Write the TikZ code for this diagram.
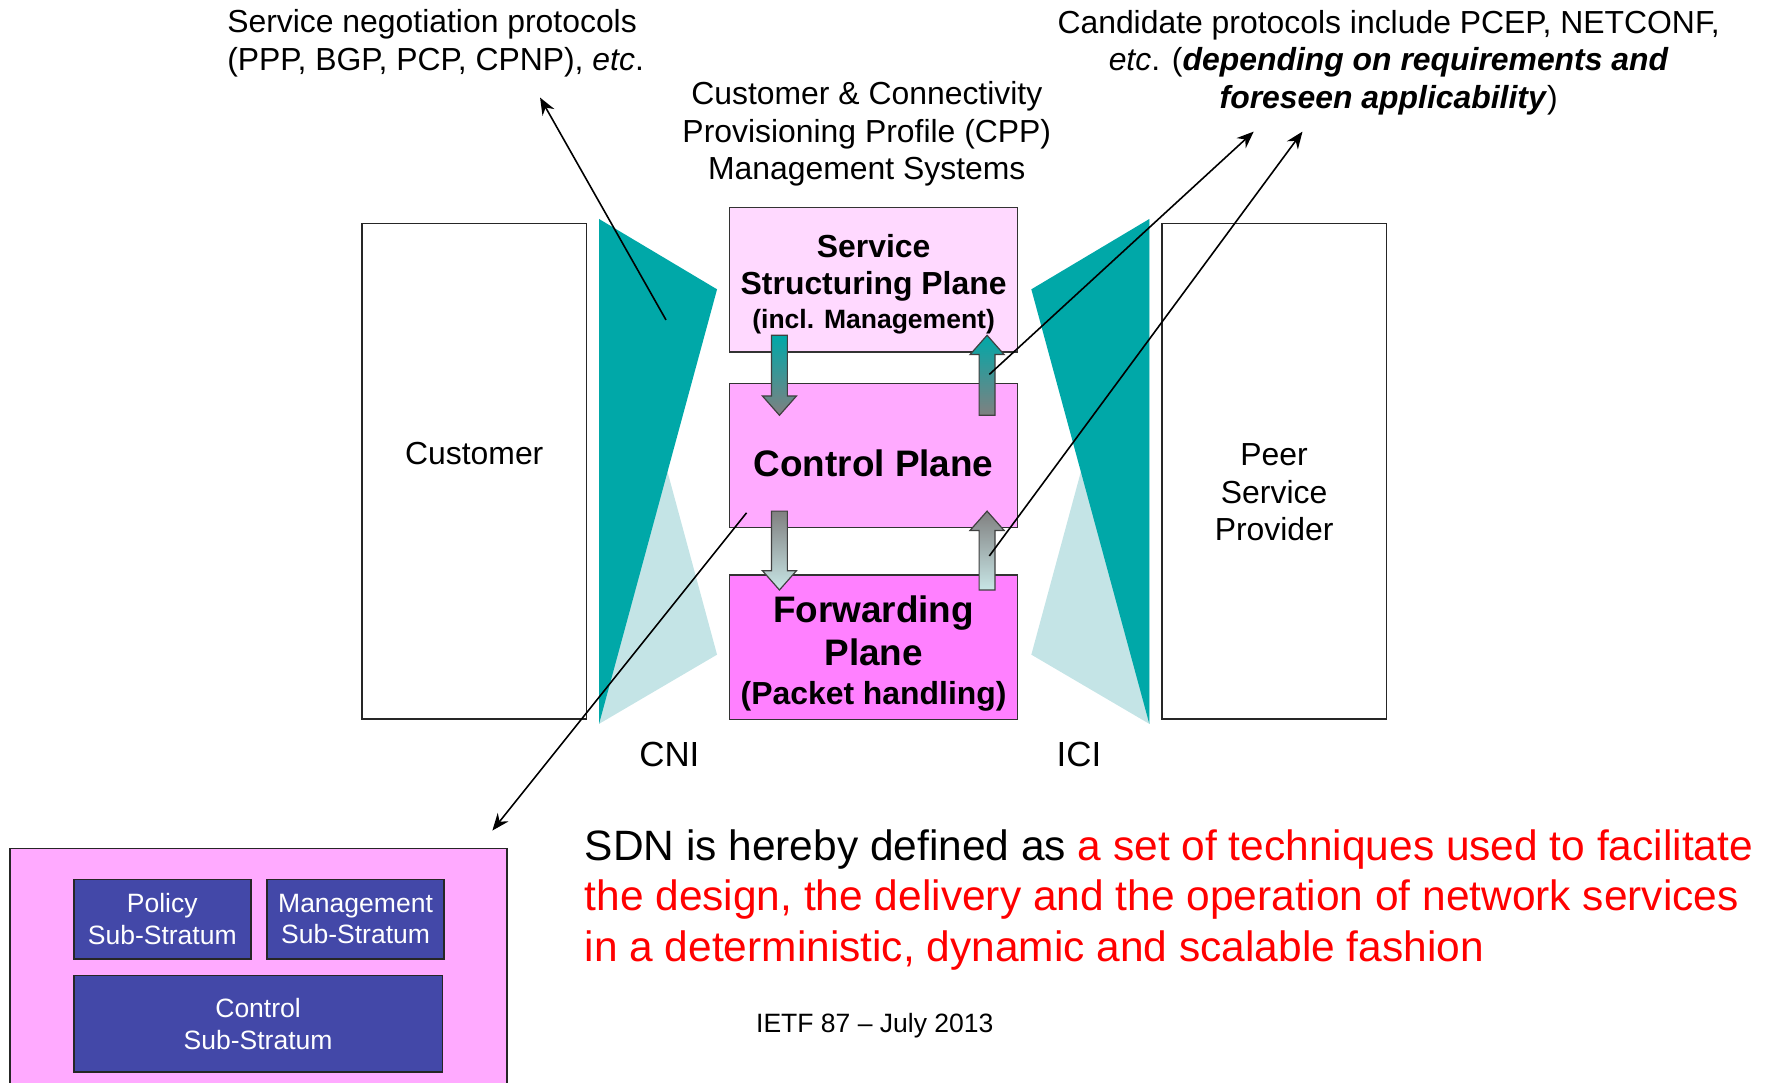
\documentclass[tikz,border=0pt]{standalone}
\usepackage{fontspec}
\setmainfont{Liberation Sans}
\usetikzlibrary{arrows.meta,positioning}
\definecolor{tealdark}{RGB}{0,168,168}
\definecolor{teallight}{RGB}{196,228,230}
\definecolor{pinkpale}{RGB}{255,217,255}
\definecolor{pinkmid}{RGB}{255,170,255}
\definecolor{pinkdeep}{RGB}{255,128,255}
\definecolor{stratum}{RGB}{67,72,168}
\definecolor{arrowgray}{RGB}{128,128,128}
\definecolor{arrowpale}{RGB}{200,230,230}
\tikzset{
  plane/.style={rectangle,draw=black!80,line width=0.8pt,minimum width=5.08cm,minimum height=2.54cm,inner sep=0pt},
  planetext/.style={inner sep=0pt,align=center},
  sidebox/.style={rectangle,draw=black!85,line width=0.8pt,minimum width=3.96cm,minimum height=8.74cm},
  subbox/.style={rectangle,draw=black!85,fill=stratum,text=white,line width=0.8pt,minimum width=3.12cm,minimum height=1.4cm,inner sep=0pt,align=center,font=\fontsize{13.3}{15.9}\selectfont},
  plain/.style={inner sep=0pt,align=center,font=\fontsize{16}{18.8}\selectfont},
  pointer/.style={-{Stealth[length=3mm,width=2.4mm]},line width=0.8pt}
}

\begin{document}
\begin{tikzpicture}[x=0.02cm,y=-0.02cm]
  \useasboundingbox (0,0) rectangle (1568,954);

  % interface funnels
  \fill[teallight] (528,193) -- (632,577) -- (528,638) -- cycle;
  \fill[tealdark] (528,193) -- (632,255) -- (528,638) -- cycle;
  \fill[teallight] (1013,193) -- (909,577) -- (1013,638) -- cycle;
  \fill[tealdark] (1013,193) -- (909,255) -- (1013,638) -- cycle;

  \node[sidebox] (customer) at (418,415.5) {};
  \node[sidebox] (peer) at (1123,415.5) {};
  \node[plain] (custtext) at (418,400) {Customer};
  \node[plain] (peertext) at (1123,434) {Peer\\Service\\Provider};

  \node[plane,fill=pinkpale] (ssp) at (770,246.5) {};
  \node[plane,fill=pinkmid] (ctl) at (770,401.5) {};
  \node[plane,fill=pinkdeep] (fwd) at (770,570.5) {};
  \node[planetext,font=\bfseries\fontsize{16}{18.5}\selectfont] (ssptext) at (770,250.5)
    {Service\\Structuring Plane\\[-1.7pt]\fontsize{13.3}{15}\selectfont (incl. Management)};
  \node[planetext,font=\bfseries\fontsize{18.5}{21}\selectfont] (ctltext) at (770,408) {Control Plane};
  \node[planetext,font=\bfseries\fontsize{18.5}{21.5}\selectfont] (fwdtext) at (770,576)
    {Forwarding\\Plane\\[-1.7pt]\fontsize{16}{19}\selectfont (Packet handling)};

  % block arrows between planes
  \foreach \cx/\yb/\yt/\ctop/\cbot in {687/295.5/366/tealdark/arrowgray,687/450.5/520/arrowgray/arrowpale,870/366/295.5/tealdark/arrowgray,870/520/450.5/arrowgray/arrowpale}{
    \pgfmathsetmacro{\yh}{\yt+17*sign(\yb-\yt)}
    \shade[top color=\ctop,bottom color=\cbot,draw=black!75,line width=0.6pt]
      (\cx-7,\yb) -- (\cx+7,\yb) -- (\cx+7,\yh) -- (\cx+15,\yh) -- (\cx,\yt)
      -- (\cx-15,\yh) -- (\cx-7,\yh) -- cycle;
  }

  \node[plain] (negtext) at (200,38) [anchor=west,align=left]
    {Service negotiation protocols\\(PPP, BGP, PCP, CPNP), \textit{etc}.};
  \node[plain] (cpptext) at (764,118)
    {Customer \& Connectivity\\Provisioning Profile (CPP)\\Management Systems};
  \node[plain] (candtext) at (1224,55)
    {Candidate protocols include PCEP, NETCONF,\\\textit{etc}. (\textbf{\textit{depending on requirements and}}\\\textbf{\textit{foreseen applicability}})};
  \node[plain,font=\fontsize{17.5}{20}\selectfont] (cni) at (590,665) {CNI};
  \node[plain,font=\fontsize{17.5}{20}\selectfont] (ici) at (951,665) {ICI};

  % SDN strata
  \node[fill=pinkmid,minimum width=8.74cm,minimum height=4.2cm,inner sep=0pt,anchor=north west] (sdnbox) at (9,748) {};
  \draw[line width=0.8pt,black!85] (sdnbox.south west) -- (sdnbox.north west) -- (sdnbox.north east) -- (sdnbox.south east);
  \node[subbox] (policy) at (143,810) {Policy\\Sub-Stratum};
  \node[subbox,right=0.26cm of policy] (mgmt) {Management\\Sub-Stratum};
  \node[subbox,minimum width=6.5cm,minimum height=1.7cm,below=0.27cm of policy.south west,anchor=north west] (ctlsub) {Control\\Sub-Stratum};

  \node[plain,anchor=west,align=left,font=\fontsize{21.3}{25.3}\selectfont] (sdndef) at (515,793)
    {SDN is hereby defined as \textcolor{red}{a set of techniques used to facilitate}\\\textcolor{red}{the design, the delivery and the operation of network services}\\\textcolor{red}{in a deterministic, dynamic and scalable fashion}};
  \node[plain,font=\fontsize{13.3}{16}\selectfont] (ietf) at (771,904) {IETF 87 -- July 2013};

  % pointers
  \coordinate (negfoot) at (587,282);
  \coordinate (negtip) at (476,86);
  \coordinate (ctlfoot) at (658,452);
  \coordinate (sdntip) at (434,732);
  \coordinate (upfootA) at (872,330);
  \coordinate (candtipA) at (1105,116);
  \coordinate (upfootB) at (872,490);
  \coordinate (candtipB) at (1148,116);
  \draw[pointer] (negfoot) -- (negtip);
  \draw[pointer] (ctlfoot) -- (sdntip);
  \draw[pointer] (upfootA) -- (candtipA);
  \draw[pointer] (upfootB) -- (candtipB);
\end{tikzpicture}
\end{document}
